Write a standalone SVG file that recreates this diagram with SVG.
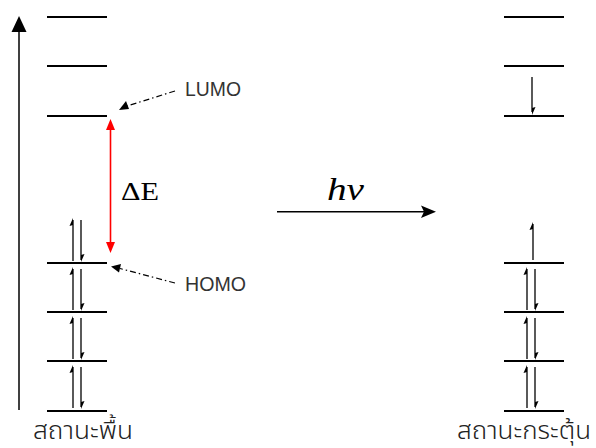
<svg xmlns="http://www.w3.org/2000/svg" width="596" height="448" viewBox="0 0 596 448">
<style>
.lvl{stroke:#000;stroke-width:2.2;fill:none}
.e{stroke:#000;stroke-width:1.3;fill:none}
.hd{fill:#000}
.lbl{font-family:"Liberation Sans","Open Sans",sans-serif;font-size:20px;fill:#333}
.thai{font-family:"Noto Sans Thai","Tahoma","Noto Sans","DejaVu Sans",sans-serif;font-size:25px;font-weight:300;fill:#222}
.ptr{stroke:#000;stroke-width:1.2;fill:none;stroke-dasharray:6 3 1.5 3}
</style>
<defs>
<g id="pair">
<line class="e" x1="-4" y1="46" x2="-4" y2="5"/>
<polygon class="hd" points="-4,3 -7.5,11 -4,10"/>
<line class="e" x1="4" y1="5" x2="4" y2="45"/>
<polygon class="hd" points="4,47 7.5,39 4,40"/>
</g>
</defs>
<g id="axis">
<line x1="19" y1="410" x2="19" y2="28" stroke="#000" stroke-width="1.5"/>
<polygon points="19,16 11.5,32 26.5,32" fill="#000"/>
</g>
<g id="ground-levels">
<line class="lvl" x1="47" y1="17" x2="107" y2="17"/>
<line class="lvl" x1="47" y1="66" x2="107" y2="66"/>
<line class="lvl" x1="47" y1="116" x2="107" y2="116"/>
<line class="lvl" x1="47" y1="263" x2="107" y2="263"/>
<line class="lvl" x1="47" y1="312" x2="107" y2="312"/>
<line class="lvl" x1="47" y1="361" x2="107" y2="361"/>
<line class="lvl" x1="47" y1="411" x2="107" y2="411"/>
<use href="#pair" x="77" y="215"/>
<use href="#pair" x="77" y="264"/>
<use href="#pair" x="77" y="313"/>
<use href="#pair" x="77" y="362"/>
</g>
<g id="excited-levels">
<line class="lvl" x1="504" y1="17" x2="564" y2="17"/>
<line class="lvl" x1="504" y1="66" x2="564" y2="66"/>
<line class="lvl" x1="504" y1="116" x2="564" y2="116"/>
<line class="lvl" x1="504" y1="263" x2="564" y2="263"/>
<line class="lvl" x1="504" y1="312" x2="564" y2="312"/>
<line class="lvl" x1="504" y1="361" x2="564" y2="361"/>
<line class="lvl" x1="504" y1="411" x2="564" y2="411"/>
<line class="e" x1="532" y1="77" x2="532" y2="112"/>
<polygon class="hd" points="532,115 535.5,107 532,108"/>
<line class="e" x1="533" y1="260" x2="533" y2="224"/>
<polygon class="hd" points="533,222 529.5,230 533,229"/>
<use href="#pair" x="531" y="264"/>
<use href="#pair" x="531" y="313"/>
<use href="#pair" x="531" y="362"/>
</g>
<g id="connectors">
<line x1="110.5" y1="128" x2="110.5" y2="243" stroke="#f00" stroke-width="1.6"/>
<polygon points="110.5,119 106,130 115,130" fill="#f00"/>
<polygon points="110.5,253 106,242 115,242" fill="#f00"/>
<line class="ptr" x1="175" y1="91" x2="127" y2="106"/>
<polygon points="119,110 126,101 129,109" fill="#000"/>
<line class="ptr" x1="175" y1="283" x2="120" y2="268.5"/>
<polygon points="111,266.5 121,264 119,272.5" fill="#000"/>
<line x1="277" y1="211.7" x2="428" y2="211.7" stroke="#000" stroke-width="1.5"/>
<polygon points="436,211.7 421,205.5 424,211.7 421,218" fill="#000"/>
</g>
<g id="labels">
<text class="lbl" x="185" y="96" textLength="56" lengthAdjust="spacingAndGlyphs">LUMO</text>
<text class="lbl" x="185" y="291" textLength="61" lengthAdjust="spacingAndGlyphs">HOMO</text>
<text x="121" y="200" font-family="'Liberation Serif', serif" font-size="25" textLength="38" lengthAdjust="spacingAndGlyphs">ΔE</text>
<text x="327" y="200" font-family="'Liberation Serif', serif" font-style="italic" font-size="32" textLength="37" lengthAdjust="spacingAndGlyphs">hv</text>
<text class="thai" x="33" y="439" textLength="100" lengthAdjust="spacingAndGlyphs">สถานะพื้น</text>
<text class="thai" x="457" y="439" textLength="134" lengthAdjust="spacingAndGlyphs">สถานะกระตุ้น</text>
</g>
</svg>
